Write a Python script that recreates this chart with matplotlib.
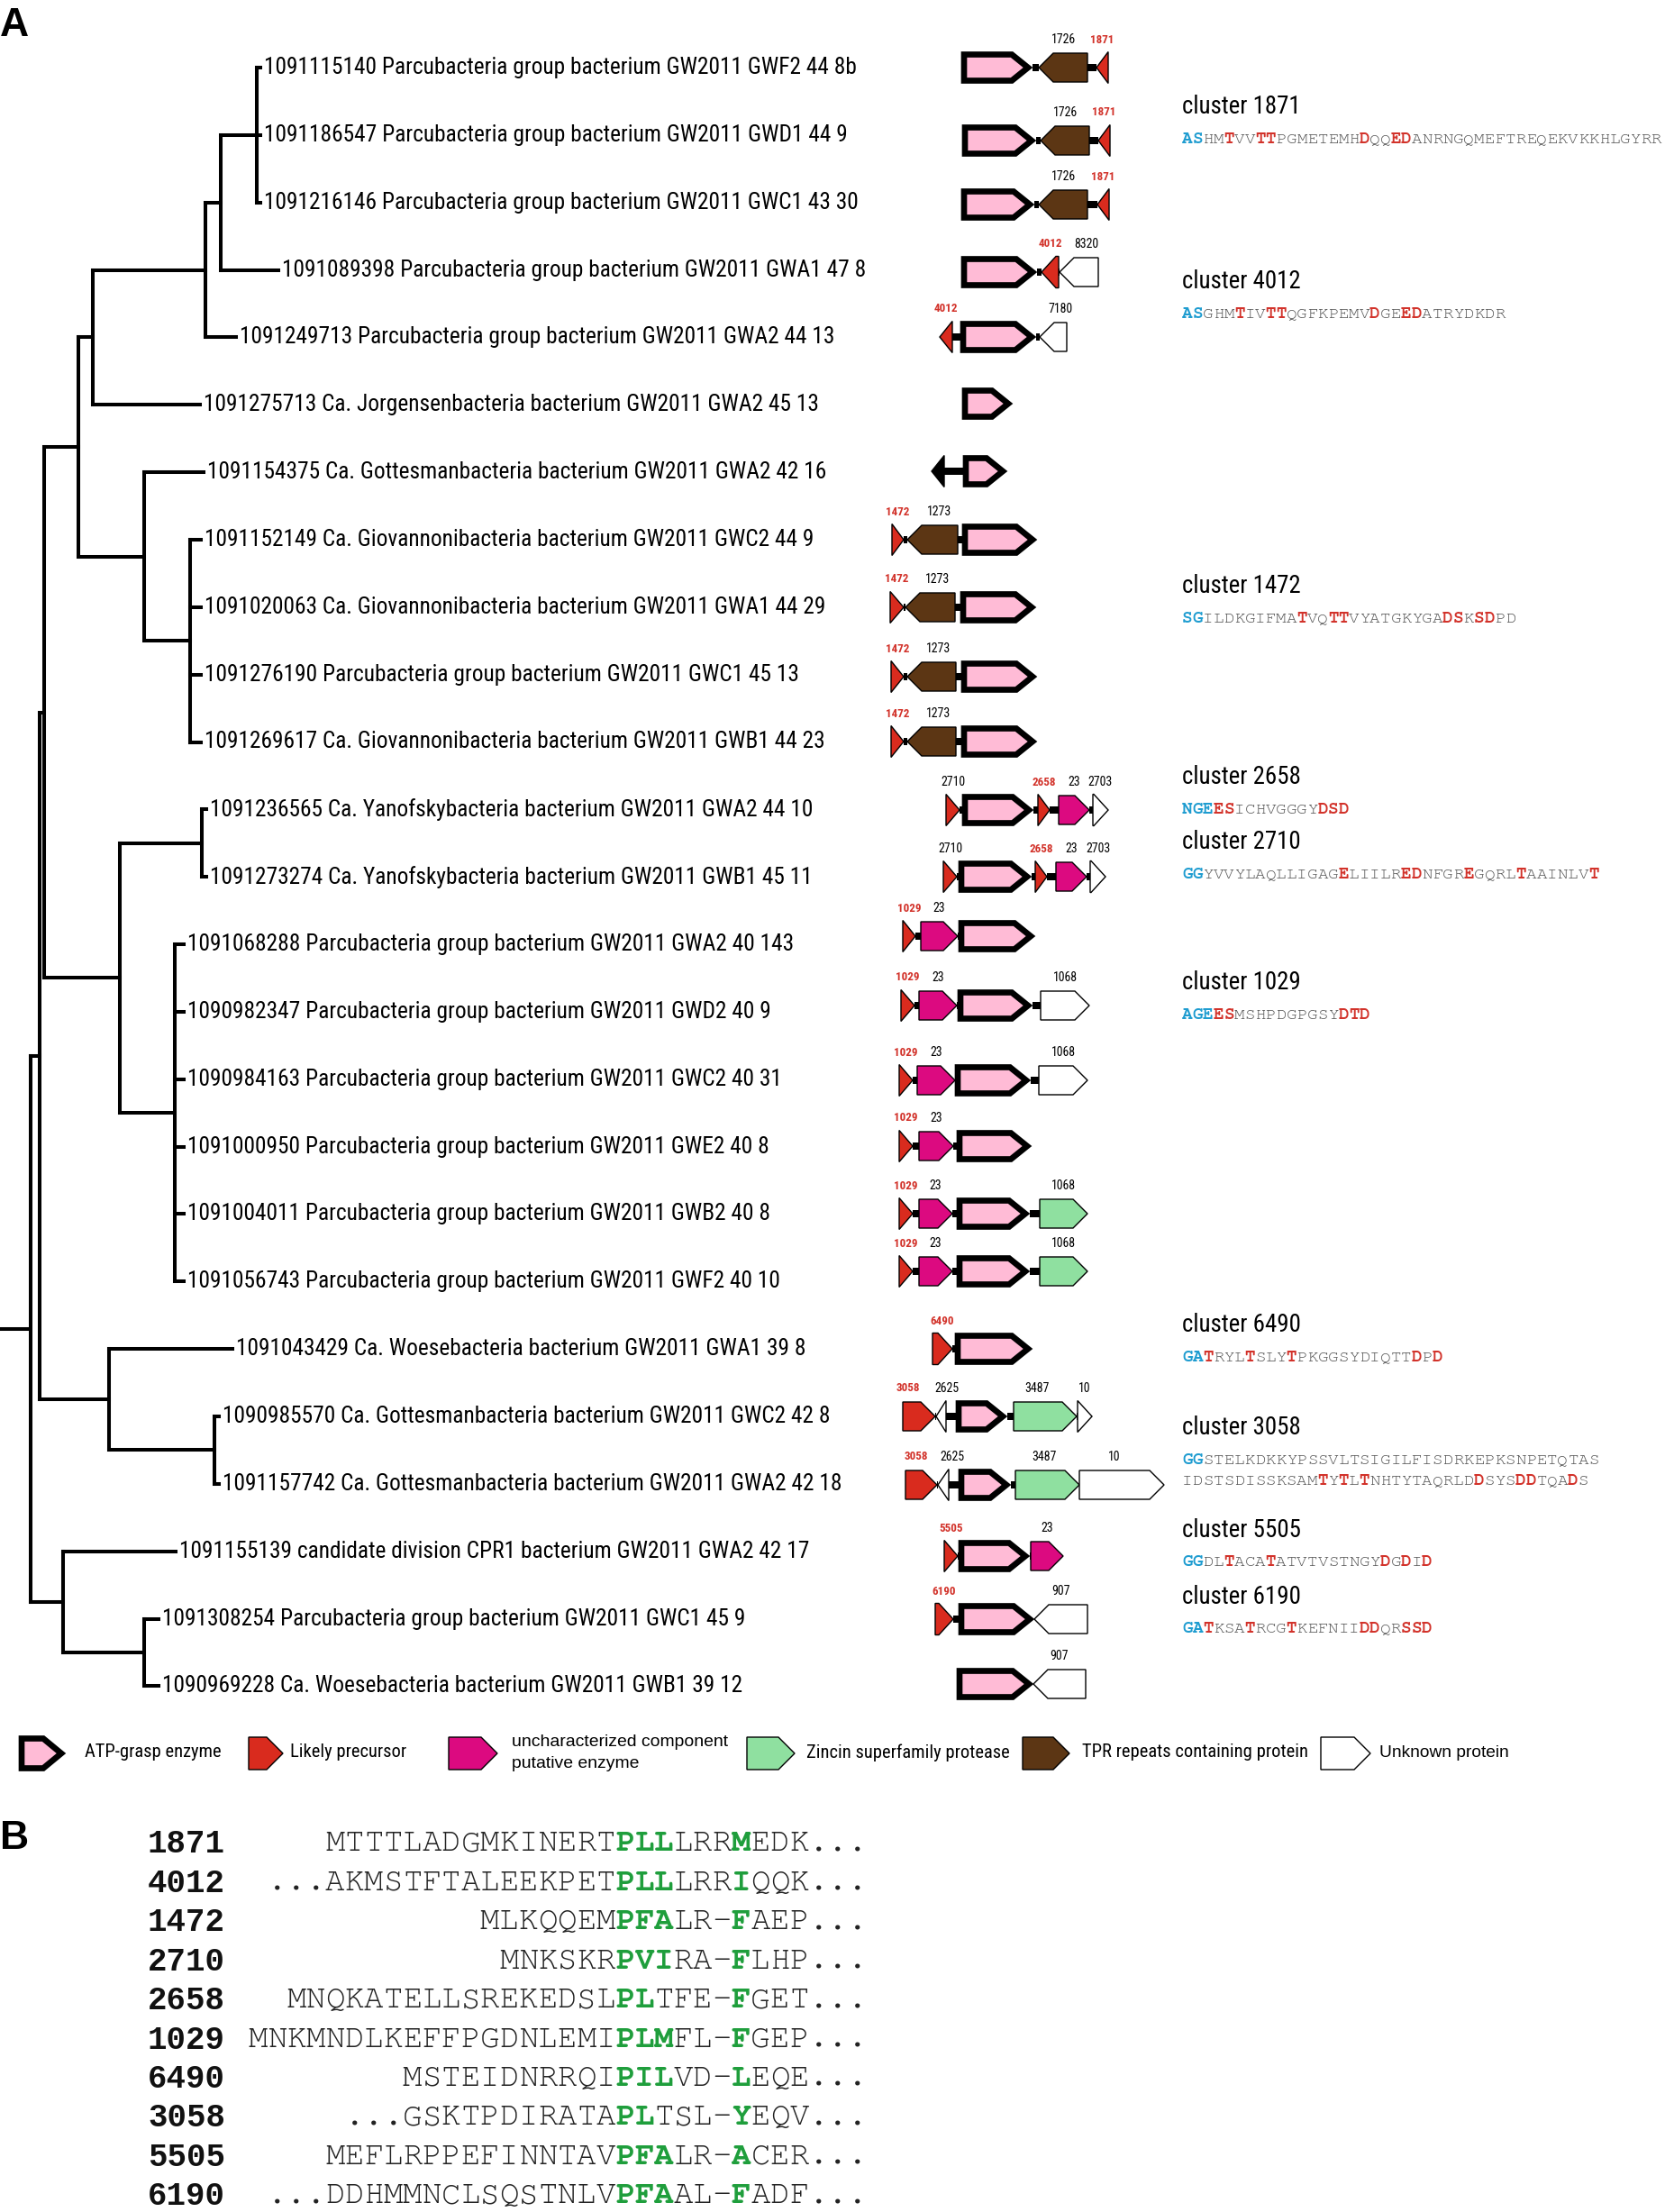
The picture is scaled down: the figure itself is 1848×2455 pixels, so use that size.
import matplotlib
matplotlib.use('Agg')
import matplotlib.pyplot as plt
from matplotlib import font_manager as fm
from matplotlib.patches import Polygon, Rectangle

###############################################################################
# data
###############################################################################
leaf_names = [
    '1091115140 Parcubacteria group bacterium GW2011 GWF2 44 8b',
    '1091186547 Parcubacteria group bacterium GW2011 GWD1 44 9',
    '1091216146 Parcubacteria group bacterium GW2011 GWC1 43 30',
    '1091089398 Parcubacteria group bacterium GW2011 GWA1 47 8',
    '1091249713 Parcubacteria group bacterium GW2011 GWA2 44 13',
    '1091275713 Ca. Jorgensenbacteria bacterium GW2011 GWA2 45 13',
    '1091154375 Ca. Gottesmanbacteria bacterium GW2011 GWA2 42 16',
    '1091152149 Ca. Giovannonibacteria bacterium GW2011 GWC2 44 9',
    '1091020063 Ca. Giovannonibacteria bacterium GW2011 GWA1 44 29',
    '1091276190 Parcubacteria group bacterium GW2011 GWC1 45 13',
    '1091269617 Ca. Giovannonibacteria bacterium GW2011 GWB1 44 23',
    '1091236565 Ca. Yanofskybacteria bacterium GW2011 GWA2 44 10',
    '1091273274 Ca. Yanofskybacteria bacterium GW2011 GWB1 45 11',
    '1091068288 Parcubacteria group bacterium GW2011 GWA2 40 143',
    '1090982347 Parcubacteria group bacterium GW2011 GWD2 40 9',
    '1090984163 Parcubacteria group bacterium GW2011 GWC2 40 31',
    '1091000950 Parcubacteria group bacterium GW2011 GWE2 40 8',
    '1091004011 Parcubacteria group bacterium GW2011 GWB2 40 8',
    '1091056743 Parcubacteria group bacterium GW2011 GWF2 40 10',
    '1091043429 Ca. Woesebacteria bacterium GW2011 GWA1 39 8',
    '1090985570 Ca. Gottesmanbacteria bacterium GW2011 GWC2 42 8',
    '1091157742 Ca. Gottesmanbacteria bacterium GW2011 GWA2 42 18',
    '1091155139 candidate division CPR1 bacterium GW2011 GWA2 42 17',
    '1091308254 Parcubacteria group bacterium GW2011 GWC1 45 9',
    '1090969228 Ca. Woesebacteria bacterium GW2011 GWB1 39 12',
]

# tip depth of each leaf (tree drawn in pixel depth)
leaf_tips = [289, 289, 289, 309, 262, 222, 226, 223, 223, 223, 223,
             229, 229, 204, 204, 204, 204, 204, 204, 258, 243, 243,
             195, 176, 176]

# internal nodes: depth, children (leaf index or node name)
tree_nodes = {
    'P1': (285, [0, 1, 2]),
    'N1': (245, ['P1', 3]),
    'N2': (228, ['N1', 4]),
    'N3': (103, ['N2', 5]),
    'P2': (211, [7, 8, 9, 10]),
    'N7': (160, [6, 'P2']),
    'N4': (87, ['N3', 'N7']),
    'P3': (224, [11, 12]),
    'P4': (194, [13, 14, 15, 16, 17, 18]),
    'N8': (133, ['P3', 'P4']),
    'Na': (49, ['N4', 'N8']),
    'N10': (238, [20, 21]),
    'N9': (121, [19, 'N10']),
    'Nb': (44, ['Na', 'N9']),
    'P5': (160, [23, 24]),
    'N11': (70, [22, 'P5']),
    'root': (34, ['Nb', 'N11']),
}

# gene neighbourhoods: (start, end, strand, kind, label); '*' = precursor cluster
gene_rows = [
    [(1067, 1146, 1, 'atp', ''), (1153, 1207, -1, 'tpr', '1726'), (1217, 1230, -1, 'pre', '*1871')],
    [(1068, 1150, 1, 'atp', ''), (1155, 1209, -1, 'tpr', '1726'), (1219, 1232, -1, 'pre', '*1871')],
    [(1067, 1148, 1, 'atp', ''), (1153, 1207, -1, 'tpr', '1726'), (1218, 1231, -1, 'pre', '*1871')],
    [(1067, 1151, 1, 'atp', ''), (1156, 1175, -1, 'pre', '*4012'), (1176, 1219, -1, 'unk', '8320')],
    [(1043, 1057, -1, 'pre', '*4012'), (1066, 1150, 1, 'atp', ''), (1154, 1184, -1, 'unk', '7180')],
    [(1068, 1124, 1, 'atp', '')],
    [(1034, 1048, -1, 'blk', ''), (1069, 1118, 1, 'atp', '')],
    [(990, 1003, 1, 'pre', '*1472'), (1007, 1063, -1, 'tpr', '1273'), (1068, 1151, 1, 'atp', '')],
    [(988, 1003, 1, 'pre', '*1472'), (1005, 1060, -1, 'tpr', '1273'), (1066, 1150, 1, 'atp', '')],
    [(989, 1003, 1, 'pre', '*1472'), (1007, 1061, -1, 'tpr', '1273'), (1067, 1151, 1, 'atp', '')],
    [(989, 1003, 1, 'pre', '*1472'), (1007, 1061, -1, 'tpr', '1273'), (1067, 1151, 1, 'atp', '')],
    [(1050, 1065, 1, 'pre', '2710'), (1068, 1147, 1, 'atp', ''), (1152, 1165, 1, 'pre', '*2658'),
     (1175, 1209, 1, 'unc', '23'), (1213, 1230, 1, 'unk', '2703')],
    [(1047, 1062, 1, 'pre', '2710'), (1064, 1145, 1, 'atp', ''), (1149, 1162, 1, 'pre', '*2658'),
     (1172, 1206, 1, 'unc', '23'), (1210, 1227, 1, 'unk', '2703')],
    [(1002, 1016, 1, 'pre', '*1029'), (1022, 1063, 1, 'unc', '23'), (1064, 1149, 1, 'atp', '')],
    [(1000, 1015, 1, 'pre', '*1029'), (1020, 1062, 1, 'unc', '23'), (1063, 1146, 1, 'atp', ''),
     (1155, 1209, 1, 'unk', '1068')],
    [(998, 1013, 1, 'pre', '*1029'), (1018, 1060, 1, 'unc', '23'), (1060, 1144, 1, 'atp', ''),
     (1153, 1207, 1, 'unk', '1068')],
    [(998, 1013, 1, 'pre', '*1029'), (1020, 1058, 1, 'unc', '23'), (1062, 1145, 1, 'atp', '')],
    [(998, 1013, 1, 'pre', '*1029'), (1020, 1057, 1, 'unc', '23'), (1062, 1143, 1, 'atp', ''),
     (1154, 1207, 1, 'zin', '1068')],
    [(998, 1013, 1, 'pre', '*1029'), (1020, 1057, 1, 'unc', '23'), (1062, 1143, 1, 'atp', ''),
     (1154, 1207, 1, 'zin', '1068')],
    [(1035, 1057, 1, 'pre', '*6490'), (1060, 1146, 1, 'atp', '')],
    [(1002, 1038, 1, 'pre', '*3058'), (1039, 1050, -1, 'unk', '2625'), (1061, 1118, 1, 'atp', ''),
     (1125, 1195, 1, 'zin', '3487'), (1196, 1212, 1, 'unk', '10')],
    [(1005, 1040, 1, 'pre', '*3058'), (1041, 1053, -1, 'unk', '2625'), (1064, 1122, 1, 'atp', ''),
     (1127, 1198, 1, 'zin', '3487'), (1198, 1292, 1, 'unk', '10')],
    [(1048, 1063, 1, 'pre', '*5505'), (1064, 1143, 1, 'atp', ''), (1144, 1180, 1, 'unc', '23')],
    [(1038, 1058, 1, 'pre', '*6190'), (1064, 1148, 1, 'atp', ''), (1148, 1207, -1, 'unk', '907')],
    [(1062, 1147, 1, 'atp', ''), (1147, 1205, -1, 'unk', '907')],
]

# precursor clusters: [..] conserved N-terminus, {..} highlighted residues
cluster_ids = ['1871', '4012', '1472', '2658', '2710', '1029', '6490', '3058', '5505', '6190']
cluster_seqs = [
    ['[AS]HM{T}VV{TT}PGMETEMH{D}QQ{ED}ANRNGQMEFTREQEKVKKHLGYRR'],
    ['[AS]GHM{T}IV{TT}QGFKPEMV{D}GE{ED}ATRYDKDR'],
    ['[SG]ILDKGIFMA{T}VQ{TT}VYATGKYGA{DS}K{SD}PD'],
    ['[NGE]{ES}ICHVGGGY{DSD}'],
    ['[GG]YVVYLAQLLIGAG{E}LIILR{ED}NFGR{E}GQRL{T}AAINLV{T}'],
    ['[AGE]{ES}MSHPDGPGSY{DTD}'],
    ['[GA]{T}RYL{T}SLY{T}PKGGSYDIQTT{D}P{D}'],
    ['[GG]STELKDKKYPSSVLTSIGILFISDRKEPKSNPETQTAS',
     'IDSTSDISSKSAM{T}Y{T}L{T}NHTYTAQRLD{D}SYS{DD}TQA{D}S'],
    ['[GG]DL{T}ACA{T}ATVTVSTNGY{D}G{D}I{D}'],
    ['[GA]{T}KSA{T}RCG{T}KEFNII{DD}QR{SSD}'],
]

legend_kinds = ['atp', 'pre', 'unc', 'zin', 'tpr', 'unk']
legend_labels = ['ATP-grasp enzyme', 'Likely precursor',
                 'uncharacterized component\nputative enzyme',
                 'Zincin superfamily protease', 'TPR repeats containing protein',
                 'Unknown protein']

# panel B: leader peptides, {..} = conserved motif
b_ids = ['1871', '4012', '1472', '2710', '2658', '1029', '6490', '3058', '5505', '6190']
b_seqs = [
    'MTTTLADGMKINERT{PLL}LRR{M}EDK...',
    '...AKMSTFTALEEKPET{PLL}LRR{I}QQK...',
    'MLKQQEM{PFA}LR-{F}AEP...',
    'MNKSKR{PVI}RA-{F}LHP...',
    'MNQKATELLSREKEDSL{PL}TFE-{F}GET...',
    'MNKMNDLKEFFPGDNLEMI{PLM}FL-{F}GEP...',
    'MSTEIDNRRQI{PIL}VD-{L}EQE...',
    '...GSKTPDIRATA{PL}TSL-{Y}EQV...',
    'MEFLRPPEFINNTAV{PFA}LR-{A}CER...',
    '...DDHMMNCLSQSTNLV{PFA}AL-{F}ADF...',
]

###############################################################################
# layout / style
###############################################################################
W, H = 1848, 2455
ROW_Y0, ROW_DY = 75.0, 74.85
GENE_Y = [75, 156, 227, 302, 374, 448, 523, 599, 674, 751, 823, 899, 973,
          1039, 1116, 1199, 1272, 1347, 1411, 1497, 1572, 1648, 1727, 1797, 1869]
# small horizontal nudges of gene labels: (row, gene index) -> dx
LABEL_DX = {(3, 2): 8, (4, 2): 8, (7, 1): 8, (8, 1): 8, (9, 1): 8, (10, 1): 8,
            (20, 0): -12, (20, 1): 6, (20, 3): -9, (21, 0): -6, (21, 1): 10,
            (21, 3): -3, (21, 4): -8}
CL_X = 1312
CL_TITLE_Y = [119, 313, 651, 863, 935, 1091, 1471, 1585, 1698, 1772]
LEG_Y = 1946
LEG_ICON_X = [(21, 73), (276, 314), (498, 552), (829, 882), (1135, 1187), (1466, 1521)]
LEG_TEXT_X = [94, 322, 568, 895, 1201, 1531]
B_Y0, B_DY, B_END, B_LAB = 2047, 43.4, 962, 250

FILL = {'atp': '#ffbbd6', 'pre': '#d92b1e', 'unc': '#dc0a80', 'zin': '#8fe0a0',
        'tpr': '#5c3614', 'unk': 'white', 'blk': 'black'}
RED = '#d2322a'
BLUE = '#1e9cd0'
GRAY = '#555555'
GREEN = '#1f9e3c'


def pick_font(names):
    for n in names:
        try:
            fm.findfont(fm.FontProperties(family=n), fallback_to_default=False)
            return n
        except ValueError:
            continue
    return 'DejaVu Sans'


def find_narrow():
    names = {f.name for f in fm.fontManager.ttflist}
    for n in ['Liberation Sans Narrow', 'Arial Narrow', 'Nimbus Sans Narrow',
              'Roboto Condensed', 'Open Sans Condensed', 'Noto Sans Condensed',
              'DejaVu Sans Condensed']:
        if n in names:
            return {'family': n}, True
    for pref in ['Liberation Sans', 'Roboto', 'Noto Sans', 'Open Sans', 'DejaVu Sans']:
        for f in fm.fontManager.ttflist:
            if f.name == pref and f.stretch in ('condensed', 'semi-condensed') \
                    and f.style == 'normal':
                return {'family': pref, 'fontstretch': f.stretch}, True
    return {'family': SANS}, False


SANS = pick_font(['Liberation Sans', 'Arial', 'DejaVu Sans'])
MONO = pick_font(['Courier New', 'Nimbus Mono PS', 'FreeMono', 'Liberation Mono', 'DejaVu Sans Mono'])
MONO_B = pick_font(['Liberation Mono', 'DejaVu Sans Mono'])
NK, HAVE_NARROW = find_narrow()
BOOST = 1.25 if HAVE_NARROW else 1.4

fig = plt.figure(figsize=(W / 100, H / 100), dpi=100)
ax = fig.add_axes([0, 0, 1, 1])
ax.set_xlim(0, W)
ax.set_ylim(H, 0)
ax.axis('off')
rend = fig.canvas.get_renderer()


def fit(text, target, weight='normal', **kw):
    t = ax.text(0, 0, text, fontsize=20, fontweight=weight, **kw)
    w = t.get_window_extent(rend).width
    t.remove()
    return 20 * target / w


FS_LEAF = fit(leaf_names[0], 655, **NK)
FS_CL = fit('cluster 1871', 124, **NK) * 1.06
FS_GENE = fit('1726', 22, **NK) * BOOST
FS_GENE_B = fit('1871', 21, 'bold', **NK) * BOOST
FS_LEG = fit('ATP-grasp enzyme', 151, **NK)
FS_LEG2 = fit('uncharacterized component', 238, family=SANS)
FS_UNK = fit('Unknown protein', 143, family=SANS)
CW_SEQ = 11.57
CW_B = 21.46
FS_SEQ = CW_SEQ / 0.6 * 0.72
FS_B = CW_B / 0.6 * 0.72


def row_y(i):
    return ROW_Y0 + ROW_DY * i


###############################################################################
# tree
###############################################################################
TREE_LW = 2.9


def draw_node(name):
    x, kids = tree_nodes[name]
    ys = []
    for k in kids:
        if isinstance(k, str):
            ky = draw_node(k)
            kx = tree_nodes[k][0]
        else:
            ky, kx = row_y(k), leaf_tips[k]
        ax.plot([x, kx], [ky, ky], color='black', lw=TREE_LW, solid_capstyle='projecting')
        ys.append(ky)
    ax.plot([x, x], [min(ys), max(ys)], color='black', lw=TREE_LW, solid_capstyle='projecting')
    return (min(ys) + max(ys)) / 2


root_y = draw_node('root')
ax.plot([0, tree_nodes['root'][0]], [root_y, root_y], color='black', lw=TREE_LW,
        solid_capstyle='butt')

for i, name in enumerate(leaf_names):
    ax.text(leaf_tips[i] + 4, row_y(i), name, ha='left', va='center',
            fontsize=FS_LEAF, color='black', **NK)


###############################################################################
# gene arrows
###############################################################################
def gene_points(x0, x1, strand, yc, hh, tip):
    t = min(tip, x1 - x0)
    if strand > 0:
        return [(x0, yc - hh), (x1 - t, yc - hh), (x1, yc), (x1 - t, yc + hh), (x0, yc + hh)]
    return [(x1, yc - hh), (x0 + t, yc - hh), (x0, yc), (x0 + t, yc + hh), (x1, yc + hh)]


def draw_gene(x0, x1, strand, kind, yc, hh=16, tip=16):
    if kind == 'atp':
        pts = gene_points(x0 + 3, x1 - 5, strand, yc, hh - 1.5, tip + 2)
        p = Polygon(pts, closed=True, facecolor=FILL[kind], edgecolor='black',
                    lw=4.8, joinstyle='miter', zorder=3)
    else:
        if x1 - x0 <= 22:
            hh += 1.5
        pts = gene_points(x0, x1, strand, yc, hh, tip)
        p = Polygon(pts, closed=True, facecolor=FILL[kind], edgecolor='black',
                    lw=1.0, joinstyle='miter', zorder=3)
    ax.add_patch(p)


for r, genes in enumerate(gene_rows):
    yc = GENE_Y[r]
    for a, b in zip(genes[:-1], genes[1:]):
        if b[0] > a[1]:
            ax.add_patch(Rectangle((a[1], yc - 4), b[0] - a[1], 8, facecolor='black',
                                   edgecolor='none', zorder=2))
    for g, (x0, x1, strand, kind, lab) in enumerate(genes):
        draw_gene(x0, x1, strand, kind, yc)
        if lab:
            hl = lab.startswith('*')
            ax.text((x0 + x1) / 2 + LABEL_DX.get((r, g), 0), yc - 31, lab.lstrip('*'),
                    ha='center', va='center',
                    fontsize=FS_GENE_B if hl else FS_GENE,
                    fontweight='bold' if hl else 'normal', color=RED if hl else 'black', **NK)


###############################################################################
# cluster sequences
###############################################################################
def draw_marked(x0, y, s, cw, size, marks, base, family, base_weight='normal'):
    i = 0
    mode = None
    for ch in s:
        if ch in '[{':
            mode = ch
            continue
        if ch in ']}':
            mode = None
            continue
        if mode is None:
            col, wt = base, base_weight
        else:
            col, wt = marks[mode], 'bold'
        ax.text(x0 + (i + 0.5) * cw, y, ch, ha='center', va='center', fontsize=size,
                family=family, fontweight=wt, color=col)
        i += 1


for cid, seqs, ty in zip(cluster_ids, cluster_seqs, CL_TITLE_Y):
    ax.text(CL_X, ty, 'cluster ' + cid, ha='left', va='center', fontsize=FS_CL,
            color='black', **NK)
    for j, s in enumerate(seqs):
        draw_marked(CL_X, ty + 36 + 23 * j, s, CW_SEQ, FS_SEQ,
                    {'[': BLUE, '{': RED}, GRAY, MONO)

###############################################################################
# legend
###############################################################################
for kind, (x0, x1), tx, lab in zip(legend_kinds, LEG_ICON_X, LEG_TEXT_X, legend_labels):
    draw_gene(x0, x1, 1, kind, LEG_Y, hh=18, tip=18)
    if '\n' in lab:
        l1, l2 = lab.split('\n')
        ax.text(tx, LEG_Y - 12, l1, ha='left', va='center', fontsize=FS_LEG2, family=SANS)
        ax.text(tx, LEG_Y + 12, l2, ha='left', va='center', fontsize=FS_LEG2, family=SANS)
    elif kind == 'unk':
        ax.text(tx, LEG_Y - 1, lab, ha='left', va='center', fontsize=FS_UNK, family=SANS)
    else:
        ax.text(tx, LEG_Y - 1, lab, ha='left', va='center', fontsize=FS_LEG, **NK)

###############################################################################
# panel B
###############################################################################
for i, (bid, s) in enumerate(zip(b_ids, b_seqs)):
    y = B_Y0 + B_DY * i
    ax.text(B_LAB, y, bid, ha='right', va='center', fontsize=FS_B, family=MONO_B,
            fontweight='bold', color='#111111')
    n = len(s.replace('{', '').replace('}', ''))
    draw_marked(B_END - n * CW_B, y, s, CW_B, FS_B, {'{': GREEN}, '#222222', MONO)

ax.text(0, 29, 'A', ha='left', va='center', fontsize=32, fontweight='bold', family=SANS)
ax.text(0, 2041, 'B', ha='left', va='center', fontsize=32, fontweight='bold', family=SANS)

fig.savefig('out.png', dpi=100)
